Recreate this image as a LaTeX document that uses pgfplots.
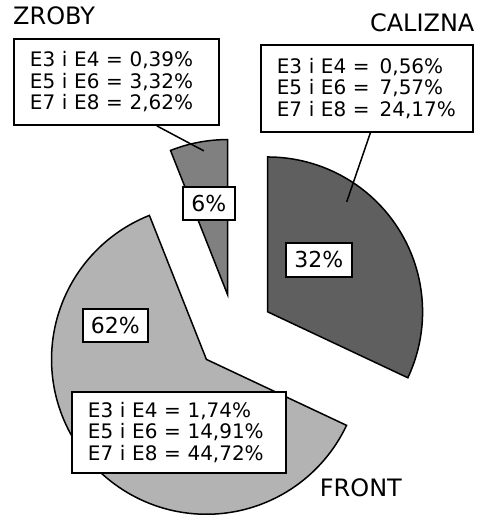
\documentclass[border=0pt]{standalone}
\usepackage{pgfplots}
\pgfplotsset{compat=1.18}
\usepackage{pgfplotstable}
\usepackage{fontspec}
\setmainfont{DejaVu Sans}
\definecolor{cCal}{HTML}{5F5F5F}
\definecolor{cFront}{HTML}{B3B3B3}
\definecolor{cZrob}{HTML}{808080}

% shares of the pie, clockwise from 12 o'clock
\pgfplotstableread{
name    value
CALIZNA 32
FRONT   62
ZROBY   6
}\piedata
\pgfplotstablegetelem{0}{value}\of\piedata \let\vCal\pgfplotsretval
\pgfplotstablegetelem{1}{value}\of\piedata \let\vFront\pgfplotsretval
\pgfplotstablegetelem{2}{value}\of\piedata \let\vZrob\pgfplotsretval

% geometry (pt): centre, radius, explosion
\def\cx{235}\def\cy{182}\def\R{155}\def\ex{39}
\pgfmathsetmacro{\aA}{90}
\pgfmathsetmacro{\aB}{90-3.6*\vCal}
\pgfmathsetmacro{\aC}{\aB-3.6*\vFront}
\pgfmathsetmacro{\aD}{\aC-3.6*\vZrob}
\pgfmathsetmacro{\calx}{\cx+\ex*cos((\aA+\aB)/2)}
\pgfmathsetmacro{\caly}{\cy+\ex*sin((\aA+\aB)/2)}
\pgfmathsetmacro{\frx}{\cx+\ex*cos((\aB+\aC)/2)}
\pgfmathsetmacro{\fry}{\cy+\ex*sin((\aB+\aC)/2)}
\pgfmathsetmacro{\zrx}{\cx+\ex*cos((\aC+\aD)/2)}
\pgfmathsetmacro{\zry}{\cy+\ex*sin((\aC+\aD)/2)}

\begin{document}
\begin{tikzpicture}
\begin{axis}[hide axis, x=1pt, y=1pt, xmin=0, xmax=480, ymin=0, ymax=515,
  clip=false, scale only axis]
\path (axis cs:0,0) rectangle (axis cs:480,515);
% slices
\addplot[draw=black, line width=1.5pt, fill=cCal, domain=\aB:\aA, samples=80, variable=\t]
  ({\calx+\R*cos(\t)}, {\caly+\R*sin(\t)}) -- (axis cs:\calx,\caly) -- cycle;
\addplot[draw=black, line width=1.5pt, fill=cFront, domain=\aC:\aB, samples=120, variable=\t]
  ({\frx+\R*cos(\t)}, {\fry+\R*sin(\t)}) -- (axis cs:\frx,\fry) -- cycle;
\addplot[draw=black, line width=1.5pt, fill=cZrob, domain=\aD:\aC, samples=30, variable=\t]
  ({\zrx+\R*cos(\t)}, {\zry+\R*sin(\t)}) -- (axis cs:\zrx,\zry) -- cycle;
% leader lines
\addplot[black, line width=1.5pt] coordinates {(157,389) (204,364)};
\addplot[black, line width=1.5pt] coordinates {(371,383) (347,313)};
% percentage labels
\tikzset{pct/.style={draw=black, fill=white, line width=1.6pt, inner sep=0pt,
  font=\fontsize{22}{24}\selectfont}}
\node[pct, minimum width=52pt, minimum height=33pt] at (axis cs:209,311.5) {6\%};
\node[pct, minimum width=66pt, minimum height=34pt] at (axis cs:319,255) {32\%};
\node[pct, minimum width=65pt, minimum height=33pt] at (axis cs:115.5,189.5) {62\%};
% detail boxes
\tikzset{det/.style={draw=black, fill=white, line width=1.9pt, align=left,
  inner xsep=16pt, inner ysep=0pt, font=\fontsize{20}{21.5}\selectfont}}
\node[det, text width=173pt, minimum height=86pt] at (axis cs:116.5,433)
  {E3 i E4 = 0,39\%\\E5 i E6 = 3,32\%\\E7 i E8 = 2,62\%};
\node[det, text width=180pt, minimum height=87pt] at (axis cs:367,426.5)
  {E3 i E4 = \,0,56\%\\E5 i E6 = \,7,57\%\\E7 i E8 = \,24,17\%};
\node[det, text width=182pt, minimum height=81pt] at (axis cs:179,82.5)
  {E3 i E4 = 1,74\%\\E5 i E6 = 14,91\%\\E7 i E8 = 44,72\%};
% titles
\tikzset{ttl/.style={inner sep=0pt, font=\fontsize{24}{26}\selectfont}}
\node[ttl, anchor=base west] at (axis cs:13,490) {ZROBY};
\node[ttl, anchor=base east] at (axis cs:475,483) {CALIZNA};
\node[ttl, anchor=base west] at (axis cs:320,18) {FRONT};
\end{axis}
\end{tikzpicture}
\end{document}
